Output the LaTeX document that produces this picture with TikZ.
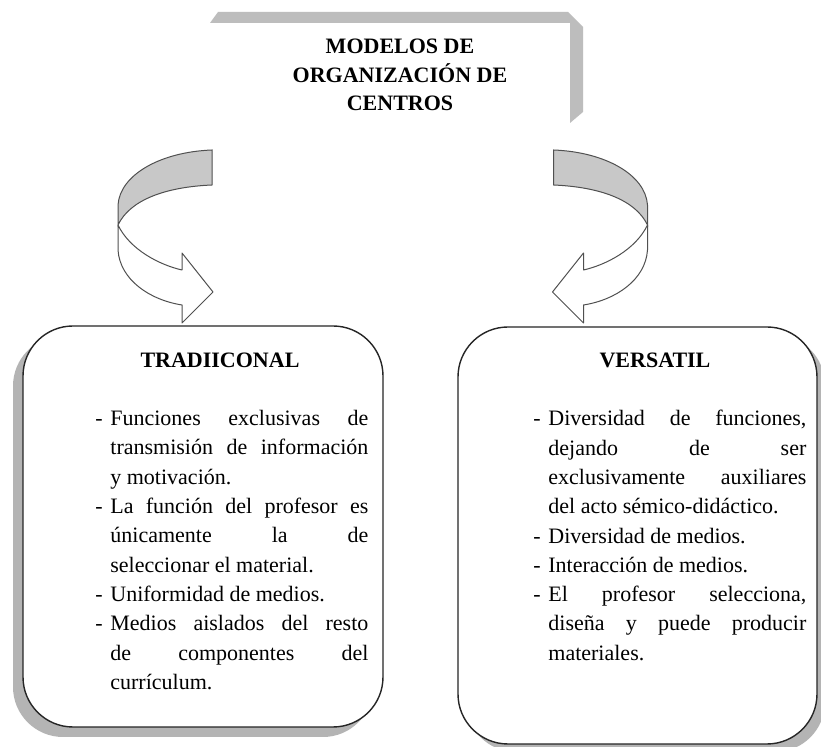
\documentclass[tikz,border=0pt]{standalone}
\usepackage{fontspec}
\setmainfont{Liberation Serif}
\usetikzlibrary{positioning, shadows}
\definecolor{bandgray}{HTML}{BDBDBD}
\definecolor{arrowgray}{HTML}{C8C8C8}
\definecolor{edgegray}{HTML}{505050}
\definecolor{shadowgray}{HTML}{B4B4B4}
\newcommand{\guion}[1]{\noindent\hangindent=7.5pt\hangafter=1\makebox[7.5pt][l]{-}#1\par}
\tikzset{
	curvarrow/.pic={
			\draw[edgegray, line width=0.5pt, fill=arrowgray]
			(94,0) .. controls (42,2) and (2,25) .. (0,55) --
			(0,75) .. controls (12,50) and (47,37) .. (94,35) --
			cycle;
			\draw[edgegray, line width=0.5pt, fill=white, line join=round]
			(0,75) .. controls (12,100) and (42,115) .. (64,120) --
			(64,103) --
			(95,142) --
			(64,173) --
			(64,155) .. controls (32,150) and (2,130) .. (0,100) --
			cycle;
		}
}
\tikzset{
	modelbox/.style={draw=black!85, line width=0.7pt, fill=white, rounded corners=25pt}
}
\tikzset{
	headtext/.style={font=\bfseries\fontsize{11}{14.25}\selectfont, inner sep=0pt, align=center}
}
\tikzset{
	listtext/.style={font=\fontsize{11}{14.65}\selectfont, inner sep=0pt, anchor=north west,
			text width=136.5pt, align=justify}
}

\begin{document}
\begin{tikzpicture}[x=0.5pt, y=-0.5pt]

	\useasboundingbox[fill=white] (0,0) rectangle (821,747);

	% title
	\fill[bandgray] (218,12) -- (568,12) -- (583,27) -- (583,112) -- (570,123) -- (570,23) -- (210,23) -- cycle;
	\node[headtext] (titulo) at (400,75) {MODELOS DE\\ORGANIZACIÓN DE\\CENTROS};

	% arrows
	\pic at (118,150) {curvarrow};
	\pic[xscale=-1] at (647.5,150) {curvarrow};

	% boxes
	\node[modelbox, minimum width=180pt, minimum height=200.5pt,
		drop shadow={shadow xshift=-5pt, shadow yshift=-5pt, fill=shadowgray, opacity=1}]
	(trad) at (203,526.5) {};
	\node[modelbox, minimum width=179.5pt, minimum height=208.5pt,
		drop shadow={shadow xshift=4pt, shadow yshift=-4pt, fill=shadowgray, opacity=1}]
	(vers) at (637.5,535.5) {};

	\node[headtext] (tradtit) at (220,360) {TRADIICONAL};
	\node[headtext] (verstit) at (655,360) {VERSATIL};

	\node[listtext] (tradlist) at (95,410) {\parskip=0pt\tolerance=10000\hbadness=10000\hyphenpenalty=10000
		\guion{Funciones exclusivas de\linebreak transmisión de información\linebreak y motivación.}
		\guion{La función del profesor es\linebreak únicamente la de\linebreak seleccionar el material.}
		\guion{Uniformidad de medios.}
		\guion{Medios aislados del resto\linebreak de componentes del\linebreak currículum.}};

	\node[listtext] (verslist) at (533,410) {\parskip=0pt\tolerance=10000\hbadness=10000\hyphenpenalty=10000
		\guion{Diversidad de funciones,\linebreak dejando de ser\linebreak exclusivamente auxiliares\linebreak del acto sémico-didáctico.}
		\guion{Diversidad de medios.}
		\guion{Interacción de medios.}
		\guion{El profesor selecciona,\linebreak diseña y puede producir\linebreak materiales.}};

\end{tikzpicture}
\end{document}
